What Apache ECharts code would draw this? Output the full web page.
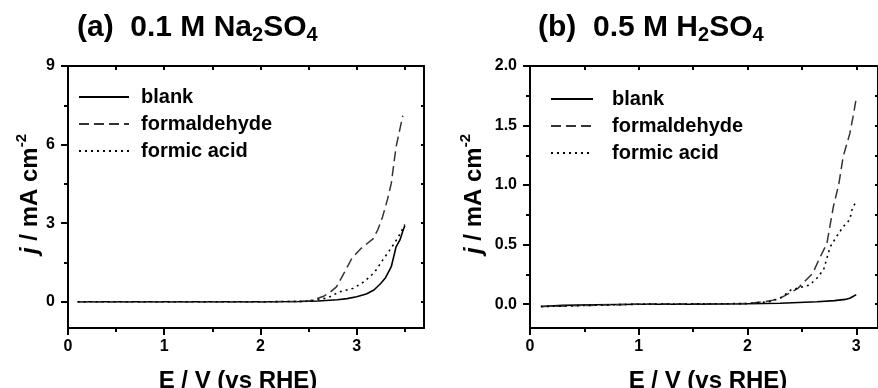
<!DOCTYPE html>
<html>
<head>
<meta charset="utf-8">
<script src="https://cdn.jsdelivr.net/npm/echarts@6/dist/echarts.min.js"></script>
<style>
html,body{margin:0;padding:0;background:#fff;}
#c{width:878px;height:388px;}
</style>
</head>
<body>
<div id="c"></div>
<script>
// ---- Panel (a): 0.1 M Na2SO4 ----
var naBlankE = [0.1, 0.5, 1.0, 1.5, 2.0, 2.4, 2.6, 2.8, 2.9, 3.0, 3.1, 3.18, 3.25, 3.3, 3.36, 3.41, 3.45, 3.48, 3.5];
var naBlankJ = [0, 0, 0, 0, 0, 0.01, 0.03, 0.08, 0.12, 0.19, 0.3, 0.45, 0.7, 0.92, 1.34, 2.1, 2.36, 2.7, 2.9];
var naFormaldehydeE = [0.1, 1.0, 2.0, 2.5, 2.65, 2.72, 2.79, 2.87, 2.95, 3.05, 3.17, 3.22, 3.27, 3.32, 3.36, 3.41, 3.45, 3.48];
var naFormaldehydeJ = [0, 0, 0, 0.02, 0.2, 0.35, 0.57, 1.1, 1.66, 2.05, 2.4, 2.75, 3.25, 3.9, 4.52, 5.92, 6.6, 7.1];
var naFormicE = [0.1, 1.0, 2.0, 2.5, 2.7, 2.82, 2.96, 3.05, 3.14, 3.2, 3.27, 3.33, 3.38, 3.43, 3.48, 3.5];
var naFormicJ = [0, 0, 0, 0.02, 0.15, 0.38, 0.51, 0.7, 0.96, 1.2, 1.59, 1.9, 2.17, 2.45, 2.8, 2.95];

// ---- Panel (b): 0.5 M H2SO4 ----
var hBlankE = [0.1, 0.3, 0.6, 1.0, 1.5, 2.0, 2.3, 2.64, 2.8, 2.9, 2.94, 2.97, 3.0];
var hBlankJ = [-0.02, -0.01, -0.005, 0, 0, 0.003, 0.008, 0.02, 0.03, 0.04, 0.05, 0.065, 0.08];
var hFormaldehydeE = [0.1, 1.0, 2.0, 2.14, 2.22, 2.3, 2.46, 2.6, 2.67, 2.73, 2.79, 2.84, 2.88, 2.94, 2.97, 3.0];
var hFormaldehydeJ = [-0.02, 0, 0.005, 0.02, 0.03, 0.05, 0.13, 0.26, 0.4, 0.51, 0.82, 1.01, 1.24, 1.43, 1.57, 1.73];
var hFormicE = [0.1, 1.0, 2.0, 2.2, 2.3, 2.4, 2.57, 2.64, 2.7, 2.76, 2.82, 2.88, 2.94, 2.96, 3.0];
var hFormicJ = [-0.02, 0, 0.005, 0.02, 0.05, 0.12, 0.16, 0.22, 0.29, 0.48, 0.57, 0.65, 0.71, 0.79, 0.87];

// ---- Ticks ----
var naXMajor = [0, 1, 2, 3];
var naXMinor = [0.5, 1.5, 2.5, 3.5];
var naXTop = [0.5, 1, 1.5, 2, 2.5, 3, 3.5];
var naYMajor = [0, 3, 6, 9];
var naYMinor = [1.5, 4.5, 7.5];
var hXMajor = [0, 1, 2, 3];
var hXMinor = [0.5, 1.5, 2.5];
var hXTop = [0.5, 1, 1.5, 2, 2.5, 3];
var hYMajor = [0, 0.5, 1.0, 1.5, 2.0];
var hYMinor = [0.25, 0.75, 1.25, 1.75];

var seriesNames = ['blank', 'formaldehyde', 'formic acid'];
var FONT = 'Liberation Sans, Arial, sans-serif';

function zip(a, b) { return a.map(function (v, i) { return [v, b[i]]; }); }

var lineStyles = [
  { color: '#000', width: 1.6, type: 'solid' },
  { color: '#333', width: 1.5, type: [10, 5] },
  { color: '#000', width: 1.6, type: [2, 4] }
];

function axesFor(grid, xmin, xmax, ymin, ymax, xMajor, xMinor, xTop, yMajor, yMinor, yRight, yFmt) {
  var line = { show: true, onZero: false, lineStyle: { color: '#000', width: 2 } };
  var noLine = { show: false, onZero: false };
  var xs = [
    { type: 'value', gridIndex: grid, min: xmin, max: xmax, position: 'bottom',
      axisLine: line, splitLine: { show: false },
      axisTick: { show: true, customValues: xMajor, length: 7, lineStyle: { color: '#000', width: 2 } },
      axisLabel: { show: true, customValues: xMajor, margin: 11, color: '#000', fontSize: 16, fontWeight: 'bold', fontFamily: FONT } },
    { type: 'value', gridIndex: grid, min: xmin, max: xmax, position: 'bottom',
      axisLine: noLine, splitLine: { show: false }, axisLabel: { show: false },
      axisTick: { show: true, customValues: xMinor, length: 4, lineStyle: { color: '#000', width: 2 } } },
    { type: 'value', gridIndex: grid, min: xmin, max: xmax, position: 'top',
      axisLine: line, splitLine: { show: false }, axisLabel: { show: false },
      axisTick: { show: true, inside: true, customValues: xTop, length: 4, lineStyle: { color: '#000', width: 2 } } }
  ];
  var ys = [
    { type: 'value', gridIndex: grid, min: ymin, max: ymax, position: 'left',
      axisLine: line, splitLine: { show: false },
      axisTick: { show: true, customValues: yMajor, length: 7, lineStyle: { color: '#000', width: 2 } },
      axisLabel: { show: true, customValues: yMajor, margin: 13, color: '#000', fontSize: 16, fontWeight: 'bold', fontFamily: FONT,
        formatter: yFmt } },
    { type: 'value', gridIndex: grid, min: ymin, max: ymax, position: 'left',
      axisLine: noLine, splitLine: { show: false }, axisLabel: { show: false },
      axisTick: { show: true, customValues: yMinor, length: 4, lineStyle: { color: '#000', width: 2 } } },
    { type: 'value', gridIndex: grid, min: ymin, max: ymax, position: 'right',
      axisLine: line, splitLine: { show: false }, axisLabel: { show: false },
      axisTick: { show: true, inside: true, customValues: yRight, length: 3, lineStyle: { color: '#000', width: 2 } } }
  ];
  return { xs: xs, ys: ys };
}

var a = axesFor(0, 0, 3.7, -1, 9, naXMajor, naXMinor, naXTop, naYMajor, naYMinor, naYMinor.concat(naYMajor),
  function (v) { return String(v); });
var b = axesFor(1, 0, 3.2, -0.2, 2.0, hXMajor, hXMinor, hXTop, hYMajor, hYMinor, hYMajor.concat(hYMinor),
  function (v) { return v.toFixed(1); });

function mkSeries(name, idx, xi, yi, E, J) {
  return { name: name, type: 'line', xAxisIndex: xi, yAxisIndex: yi, data: zip(E, J),
    showSymbol: false, symbol: 'none', smooth: false, lineStyle: lineStyles[idx], color: lineStyles[idx].color,
    animation: false, z: 3 };
}

var series = [
  mkSeries('blank', 0, 0, 0, naBlankE, naBlankJ),
  mkSeries('formaldehyde', 1, 0, 0, naFormaldehydeE, naFormaldehydeJ),
  mkSeries('formic acid', 2, 0, 0, naFormicE, naFormicJ),
  mkSeries('blank', 0, 3, 3, hBlankE, hBlankJ),
  mkSeries('formaldehyde', 1, 3, 3, hFormaldehydeE, hFormaldehydeJ),
  mkSeries('formic acid', 2, 3, 3, hFormicE, hFormicJ)
];

function legendAt(left, top, w, gap) {
  return { show: true, orient: 'vertical', left: left, top: top, itemWidth: w, itemHeight: 14, itemGap: 7,
    selectedMode: false, padding: 0,
    itemStyle: { color: 'rgba(0,0,0,0)', borderWidth: 0, opacity: 0 },
    data: seriesNames,
    textStyle: { color: '#000', fontSize: 20, fontWeight: 'bold', fontFamily: FONT, padding: [0, 0, 0, gap] } };
}

function titleAt(left, main1, sub1, main2, sub2) {
  return { left: left, top: 13, padding: 0,
    text: '{m|' + main1 + '}{s|' + sub1 + '}{m|' + main2 + '}{s|' + sub2 + '}',
    textStyle: { rich: {
      m: { fontSize: 30, fontWeight: 'bold', fontFamily: FONT, color: '#000', lineHeight: 32, verticalAlign: 'top' },
      s: { fontSize: 20, fontWeight: 'bold', fontFamily: FONT, color: '#000', lineHeight: 14, verticalAlign: 'bottom' }
    } } };
}

function yTitle(x, y) {
  return { type: 'text', x: x, y: y, rotation: Math.PI / 2,
    style: { text: '{i|j}{n| / mA cm}{p|-2}', align: 'center', verticalAlign: 'middle',
      textAlign: 'center', textVerticalAlign: 'middle',
      rich: {
        i: { fontSize: 24, fontWeight: 'bold', fontStyle: 'italic', fontFamily: FONT, fill: '#000', lineHeight: 28, verticalAlign: 'bottom' },
        n: { fontSize: 24, fontWeight: 'bold', fontFamily: FONT, fill: '#000', lineHeight: 28, verticalAlign: 'bottom' },
        p: { fontSize: 15, fontWeight: 'bold', fontFamily: FONT, fill: '#000', lineHeight: 28, verticalAlign: 'top' }
      } } };
}
function xTitle(x, y) {
  return { type: 'text', x: x, y: y,
    style: { text: 'E / V (vs RHE)', align: 'center', verticalAlign: 'middle', textAlign: 'center', textVerticalAlign: 'middle',
      font: 'bold 24px ' + FONT, fill: '#000' } };
}

var chart = echarts.init(document.getElementById('c'), null, { renderer: 'canvas' });
chart.setOption({
  backgroundColor: '#fff',
  animation: false,
  title: [
    titleAt(77, '(a)  0.1 M Na', '2', 'SO', '4'),
    titleAt(538, '(b)  0.5 M H', '2', 'SO', '4')
  ],
  legend: [legendAt(78, 87, 50, 7), legendAt(550, 89, 42, 14)],
  grid: [
    { left: 68, top: 66, width: 356, height: 262 },
    { left: 530, top: 66, width: 355, height: 262 }
  ],
  xAxis: a.xs.concat(b.xs),
  yAxis: a.ys.concat(b.ys),
  series: series,
  graphic: [
    yTitle(28, 194), yTitle(472, 194),
    xTitle(238, 381), xTitle(708, 381)
  ]
});
</script>
</body>
</html>
